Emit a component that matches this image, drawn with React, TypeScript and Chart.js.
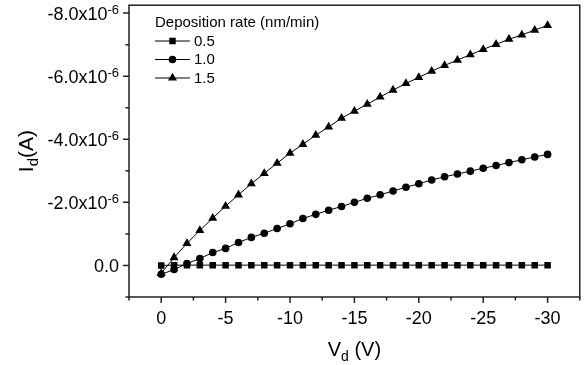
import React, { useEffect, useRef } from 'react';
import { Chart, registerables } from 'chart.js';

Chart.register(...registerables);

// ---- data (Vd in volts, Id in units of 1e-6 A) ----
const vd = [0, -1, -2, -3, -4, -5, -6, -7, -8, -9, -10, -11, -12, -13, -14, -15, -16, -17, -18, -19, -20, -21, -22, -23, -24, -25, -26, -27, -28, -29, -30];
const rate05 = [0.0, -0.01, -0.01, -0.01, -0.01, -0.01, -0.01, -0.01, -0.01, -0.01, -0.01, -0.01, -0.01, -0.01, -0.01, -0.01, -0.01, -0.01, -0.01, -0.01, -0.01, -0.01, -0.01, -0.01, -0.01, -0.01, -0.01, -0.01, -0.01, -0.01, -0.01];
const rate10 = [0.28, 0.13, -0.06, -0.22, -0.41, -0.54, -0.73, -0.89, -1.02, -1.17, -1.32, -1.49, -1.62, -1.75, -1.87, -2.0, -2.13, -2.24, -2.36, -2.48, -2.59, -2.71, -2.81, -2.9, -2.99, -3.08, -3.17, -3.26, -3.35, -3.44, -3.52];
const rate15 = [0.25, -0.25, -0.7, -1.11, -1.5, -1.88, -2.24, -2.59, -2.92, -3.24, -3.56, -3.84, -4.13, -4.39, -4.67, -4.89, -5.11, -5.34, -5.56, -5.77, -5.96, -6.16, -6.34, -6.51, -6.68, -6.85, -7.01, -7.17, -7.31, -7.46, -7.61];

const seriesLabels = ['0.5', '1.0', '1.5'];
const seriesStyles = ['rect', 'circle', 'triangle'];
const seriesRadius = [4.6, 3.8, 5.2];
const legendTitle = 'Deposition rate (nm/min)';

const xMajorTicks = [0, -5, -10, -15, -20, -25, -30];
const xMinorTicks = [2.5, -2.5, -7.5, -12.5, -17.5, -22.5, -27.5, -32.5];
const yMajorTicks = [0, -2, -4, -6, -8];
const yMinorTicks = [1, -1, -3, -5, -7];
const yTickMantissa = ['0.0', '-2.0x10', '-4.0x10', '-6.0x10', '-8.0x10'];
const yTickExponent = ['', '-6', '-6', '-6', '-6'];

const FONT = '"Liberation Sans", Arial, Helvetica, sans-serif';
const AXIS_COLOR = '#222';

function drawMarker(ctx: CanvasRenderingContext2D, style: string, x: number, y: number, r: number) {
  ctx.beginPath();
  if (style === 'rect') {
    const s = Math.SQRT1_2 * r;
    ctx.rect(x - s, y - s, 2 * s, 2 * s);
  } else if (style === 'circle') {
    ctx.arc(x, y, r, 0, Math.PI * 2);
  } else {
    const a = (2 * Math.PI) / 3;
    ctx.moveTo(x, y - r);
    ctx.lineTo(x + Math.sin(a) * r, y - Math.cos(a) * r);
    ctx.lineTo(x + Math.sin(2 * a) * r, y - Math.cos(2 * a) * r);
    ctx.closePath();
  }
  ctx.fill();
}

const decorPlugin = {
  id: 'decor',
  afterDraw(chart: any) {
    const ctx: CanvasRenderingContext2D = chart.ctx;
    const { left, right, top, bottom } = chart.chartArea;
    const xs = chart.scales.x;
    const ys = chart.scales.y;
    ctx.save();
    // frame
    ctx.strokeStyle = AXIS_COLOR;
    ctx.lineWidth = 1.5;
    ctx.strokeRect(left, top, right - left, bottom - top);
    // ticks
    ctx.beginPath();
    xMajorTicks.forEach((v) => {
      const p = xs.getPixelForValue(v);
      ctx.moveTo(p, bottom);
      ctx.lineTo(p, bottom + 6);
    });
    xMinorTicks.forEach((v) => {
      const p = xs.getPixelForValue(v);
      ctx.moveTo(p, bottom);
      ctx.lineTo(p, bottom + 3.5);
    });
    yMajorTicks.forEach((v) => {
      const p = ys.getPixelForValue(v);
      ctx.moveTo(left, p);
      ctx.lineTo(left - 6, p);
    });
    yMinorTicks.forEach((v) => {
      const p = ys.getPixelForValue(v);
      ctx.moveTo(left, p);
      ctx.lineTo(left - 3.5, p);
    });
    ctx.stroke();

    // y tick labels with superscript exponent
    ctx.fillStyle = '#000';
    ctx.textBaseline = 'alphabetic';
    const labelRight = left - 10;
    yMajorTicks.forEach((v, i) => {
      const p = ys.getPixelForValue(v);
      ctx.font = `13px ${FONT}`;
      const exp = yTickExponent[i];
      const ew = exp ? ctx.measureText(exp).width : 0;
      if (exp) {
        ctx.textAlign = 'right';
        ctx.fillText(exp, labelRight, p + 0.5);
      }
      ctx.font = `18px ${FONT}`;
      ctx.textAlign = 'right';
      ctx.fillText(yTickMantissa[i], labelRight - ew, p + 7);
    });

    // x axis title: V_d (V)
    {
      const big = `20px ${FONT}`;
      const small = `14px ${FONT}`;
      ctx.font = big;
      const w1 = ctx.measureText('V').width;
      const w3 = ctx.measureText(' (V)').width;
      ctx.font = small;
      const w2 = ctx.measureText('d').width;
      const total = w1 + w2 + w3;
      const x0 = (left + right) / 2 - total / 2;
      const base = 356;
      ctx.textAlign = 'left';
      ctx.font = big;
      ctx.fillText('V', x0, base);
      ctx.font = small;
      ctx.fillText('d', x0 + w1, base + 5);
      ctx.font = big;
      ctx.fillText(' (V)', x0 + w1 + w2, base);
    }
    // y axis title: I_d(A) rotated
    {
      ctx.save();
      ctx.translate(33, (top + bottom) / 2);
      ctx.rotate(-Math.PI / 2);
      ctx.font = `21px ${FONT}`;
      const w1 = ctx.measureText('I').width;
      const w3 = ctx.measureText('(A)').width;
      ctx.font = `15px ${FONT}`;
      const w2 = ctx.measureText('d').width;
      const total = w1 + w2 + w3;
      const x0 = -total / 2;
      ctx.textAlign = 'left';
      ctx.font = `21px ${FONT}`;
      ctx.fillText('I', x0, 0);
      ctx.font = `15px ${FONT}`;
      ctx.fillText('d', x0 + w1, 5);
      ctx.font = `21px ${FONT}`;
      ctx.fillText('(A)', x0 + w1 + w2, 0);
      ctx.restore();
    }

    // legend
    ctx.textAlign = 'left';
    ctx.textBaseline = 'middle';
    ctx.font = `15px ${FONT}`;
    ctx.fillText(legendTitle, 155, 23);
    const rows = [41, 59.5, 78];
    chart.data.datasets.forEach((ds: any, i: number) => {
      const y = rows[i];
      ctx.strokeStyle = '#000';
      ctx.lineWidth = 1;
      ctx.beginPath();
      ctx.moveTo(155, y);
      ctx.lineTo(190, y);
      ctx.stroke();
      ctx.fillStyle = '#000';
      drawMarker(ctx, ds.pointStyle, 172.5, y, ds.pointRadius);
      ctx.font = `15px ${FONT}`;
      ctx.fillText(ds.label, 194, y + 0.5);
    });
    ctx.restore();
  },
};

export default function App() {
  const ref = useRef<HTMLCanvasElement | null>(null);
  useEffect(() => {
    if (!ref.current) return;
    const series = [rate05, rate10, rate15];
    const chart = new Chart(ref.current, {
      type: 'line',
      data: {
        datasets: series.map((s, i) => ({
          label: seriesLabels[i],
          data: vd.map((x, j) => ({ x, y: s[j] })),
          borderColor: '#000',
          borderWidth: 1,
          backgroundColor: '#000',
          pointStyle: seriesStyles[i] as any,
          pointRadius: seriesRadius[i],
          pointBorderWidth: 0,
          pointBackgroundColor: '#000',
          pointBorderColor: '#000',
          tension: 0,
          fill: false,
        })),
      },
      options: {
        responsive: false,
        animation: false,
        layout: { padding: { left: 129, right: 2, top: 5, bottom: 0 } },
        plugins: { legend: { display: false }, tooltip: { enabled: false } },
        scales: {
          x: {
            type: 'linear',
            reverse: true,
            min: -32.5,
            max: 2.5,
            afterBuildTicks: (s: any) => {
              s.ticks = xMajorTicks.map((v) => ({ value: v }));
            },
            afterFit: (s: any) => {
              s.height = 68;
            },
            grid: { display: false },
            border: { display: false },
            ticks: {
              color: '#000',
              padding: 3,
              maxRotation: 0,
              autoSkip: false,
              font: { family: FONT, size: 18 },
              callback: (v: any) => String(v),
            },
          },
          y: {
            type: 'linear',
            reverse: true,
            min: -8.25,
            max: 1,
            display: false,
          },
        },
      },
      plugins: [decorPlugin],
    });
    return () => chart.destroy();
  }, []);
  return (
    <div style={{ position: 'absolute', left: 0, top: 0, width: 585, height: 365, background: '#fff' }}>
      <canvas ref={ref} width={585} height={365} style={{ display: 'block' }} />
    </div>
  );
}
